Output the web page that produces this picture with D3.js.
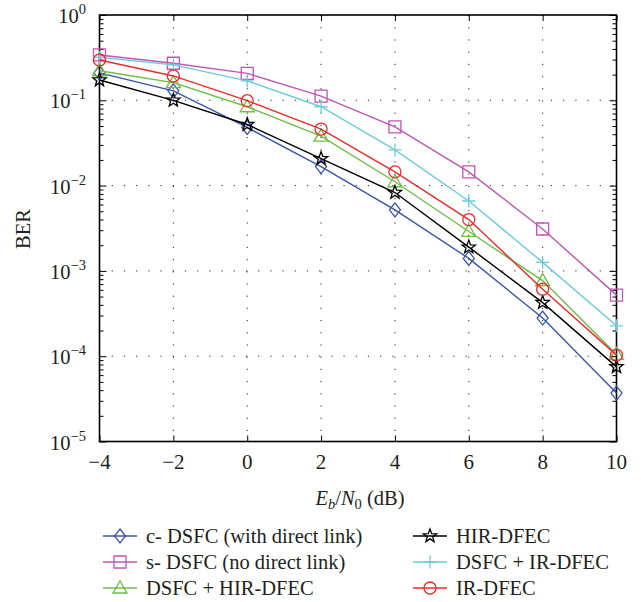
<!DOCTYPE html>
<html>
<head>
<meta charset="utf-8">
<script src="https://cdn.jsdelivr.net/npm/d3@7"></script>
<style>
  html, body { margin: 0; padding: 0; background: #fff; }
  svg { display: block; }
  text { font-family: "Liberation Serif", "Times New Roman", serif; fill: #231F20; }
</style>
</head>
<body>
<svg id="chart" width="641" height="602"></svg>
<script>
// ---- data ----
const snr = [-4, -2, 0, 2, 4, 6, 8, 10];
const xTicks = [-4, -2, 0, 2, 4, 6, 8, 10];
const yDecades = [0, -1, -2, -3, -4, -5];

const cDSFC      = [0.21, 0.129, 0.048, 0.0167, 0.0052, 0.0014, 0.00028, 0.000037];
const sDSFC      = [0.34, 0.272, 0.207, 0.112, 0.0487, 0.0145, 0.0031, 0.00052];
const dsfcHIR    = [0.222, 0.161, 0.084, 0.038, 0.0111, 0.0029, 0.00077, 0.000105];
const hirDFEC    = [0.173, 0.100, 0.052, 0.0207, 0.0083, 0.0019, 0.000425, 0.000075];
const dsfcIR     = [0.32, 0.26, 0.169, 0.084, 0.0262, 0.0066, 0.00126, 0.000227];
const irDFEC     = [0.297, 0.193, 0.099, 0.046, 0.0145, 0.0040, 0.00061, 0.000103];

const seriesNames = ["c- DSFC (with direct link)", "s- DSFC (no direct link)", "DSFC + HIR-DFEC",
                     "HIR-DFEC", "DSFC + IR-DFEC", "IR-DFEC"];
const seriesValues = [cDSFC, sDSFC, dsfcHIR, hirDFEC, dsfcIR, irDFEC];
const seriesColors = ["#3A55A8", "#C055B5", "#6CBE45", "#000000", "#6CCBDB", "#EE2B2B"];
const seriesMarkers = ["diamond", "square", "triangle", "star", "plus", "circle"];

// ---- layout ----
const svg = d3.select("#chart");
const L = 99.5, R = 616.5, T = 15, B = 441.5;
const x = d3.scaleLinear().domain([-4, 10]).range([L, R]);
const y = d3.scaleLog().domain([1e-5, 1]).range([B, T]);

// grid
const grid = svg.append("g");
xTicks.slice(1, -1).forEach(v => {
  grid.append("line").attr("x1", x(v)).attr("x2", x(v)).attr("y1", T).attr("y2", B)
    .attr("stroke", "#222").attr("stroke-width", 1).attr("stroke-dasharray", "1.2,11");
});
yDecades.slice(1, -1).forEach(d => {
  const v = Math.pow(10, d);
  grid.append("line").attr("x1", L).attr("x2", R).attr("y1", y(v)).attr("y2", y(v))
    .attr("stroke", "#222").attr("stroke-width", 1).attr("stroke-dasharray", "1.2,11");
});

// axes with inward ticks
const axisG = svg.append("g");
const xAxisB = d3.axisBottom(x).tickValues(xTicks).tickSize(-6).tickFormat("");
const xAxisT = d3.axisTop(x).tickValues(xTicks).tickSize(-6).tickFormat("");
axisG.append("g").attr("transform", `translate(0,${B})`).call(xAxisB);
axisG.append("g").attr("transform", `translate(0,${T})`).call(xAxisT);

const minorVals = [];
for (let d = -5; d < 0; d++) for (let m = 2; m <= 9; m++) minorVals.push(m * Math.pow(10, d));
const majorVals = yDecades.map(d => Math.pow(10, d));
axisG.append("g").attr("transform", `translate(${L},0)`).call(d3.axisLeft(y).tickValues(minorVals).tickSize(-4).tickFormat(""));
axisG.append("g").attr("transform", `translate(${R},0)`).call(d3.axisRight(y).tickValues(minorVals).tickSize(-4).tickFormat(""));
axisG.append("g").attr("transform", `translate(${L},0)`).call(d3.axisLeft(y).tickValues(majorVals).tickSize(-7).tickFormat(""));
axisG.append("g").attr("transform", `translate(${R},0)`).call(d3.axisRight(y).tickValues(majorVals).tickSize(-7).tickFormat(""));
axisG.selectAll(".domain").remove();
axisG.selectAll("line").attr("stroke", "#000").attr("stroke-width", 1);

// frame
svg.append("rect").attr("x", L).attr("y", T).attr("width", R - L).attr("height", B - T)
  .attr("fill", "none").attr("stroke", "#000").attr("stroke-width", 1.6);

// tick labels
xTicks.forEach(v => {
  svg.append("text").attr("x", x(v)).attr("y", 469).attr("text-anchor", "middle")
    .attr("font-size", 21).text(v < 0 ? "\u2212" + Math.abs(v) : String(v));
});
yDecades.forEach(d => {
  const t = svg.append("text").attr("x", 86).attr("y", y(Math.pow(10, d)) + 8)
    .attr("text-anchor", "end").attr("font-size", 20.5);
  t.append("tspan").text("10");
  t.append("tspan").attr("dy", -9).attr("font-size", 14.5).text(d < 0 ? "\u2212" + Math.abs(d) : String(d));
});

// axis titles
svg.append("text").attr("transform", "translate(30,229) rotate(-90)")
  .attr("text-anchor", "middle").attr("font-size", 20.5).text("BER");
const xl = svg.append("text").attr("x", 360).attr("y", 505).attr("text-anchor", "middle").attr("font-size", 20.5);
xl.append("tspan").attr("font-style", "italic").text("E");
xl.append("tspan").attr("font-style", "italic").attr("font-size", 14.5).attr("dy", 4).text("b");
xl.append("tspan").attr("dy", -4).text("/");
xl.append("tspan").attr("font-style", "italic").text("N");
xl.append("tspan").attr("font-size", 14.5).attr("dy", 4).text("0");
xl.append("tspan").attr("dy", -4).text(" (dB)");

// markers
function markerPath(type) {
  const p = d3.path();
  if (type === "diamond") { p.moveTo(0, -7); p.lineTo(5.5, 0); p.lineTo(0, 7); p.lineTo(-5.5, 0); p.closePath(); }
  else if (type === "square") { p.rect(-6, -6, 12, 12); }
  else if (type === "triangle") { p.moveTo(0, -7); p.lineTo(7, 5); p.lineTo(-7, 5); p.closePath(); }
  else if (type === "plus") { p.moveTo(-6.5, 0); p.lineTo(6.5, 0); p.moveTo(0, -6.5); p.lineTo(0, 6.5); }
  else if (type === "circle") { p.arc(0, 0, 6, 0, 2 * Math.PI); }
  else if (type === "star") {
    const ro = 7, ri = 2.9;
    for (let i = 0; i < 10; i++) {
      const r = i % 2 === 0 ? ro : ri;
      const a = -Math.PI / 2 + i * Math.PI / 5;
      const px = r * Math.cos(a), py = r * Math.sin(a);
      if (i === 0) p.moveTo(px, py); else p.lineTo(px, py);
    }
    p.closePath();
  }
  return p.toString();
}

const line = d3.line().x((d, i) => x(snr[i])).y(d => y(d));
seriesValues.forEach((vals, k) => {
  const g = svg.append("g");
  g.append("path").attr("d", line(vals)).attr("fill", "none")
    .attr("stroke", seriesColors[k]).attr("stroke-width", 1.4);
  g.selectAll("path.m").data(vals).enter().append("path").attr("class", "m")
    .attr("transform", (d, i) => `translate(${x(snr[i])},${y(d)})`)
    .attr("d", markerPath(seriesMarkers[k]))
    .attr("fill", "none").attr("stroke", seriesColors[k]).attr("stroke-width", 1.3);
});

// legend
const legCols = [103, 413];
const legRows = [536, 562, 588];
seriesNames.forEach((name, k) => {
  const cx = legCols[Math.floor(k / 3)], cy = legRows[k % 3];
  const g = svg.append("g");
  g.append("line").attr("x1", cx).attr("x2", cx + 34).attr("y1", cy).attr("y2", cy)
    .attr("stroke", seriesColors[k]).attr("stroke-width", 1.4);
  g.append("path").attr("transform", `translate(${cx + 17},${cy})`).attr("d", markerPath(seriesMarkers[k]))
    .attr("fill", "none").attr("stroke", seriesColors[k]).attr("stroke-width", 1.3);
  g.append("text").attr("x", cx + 43).attr("y", cy + 7).attr("font-size", 20.5).text(name);
});
</script>
</body>
</html>
